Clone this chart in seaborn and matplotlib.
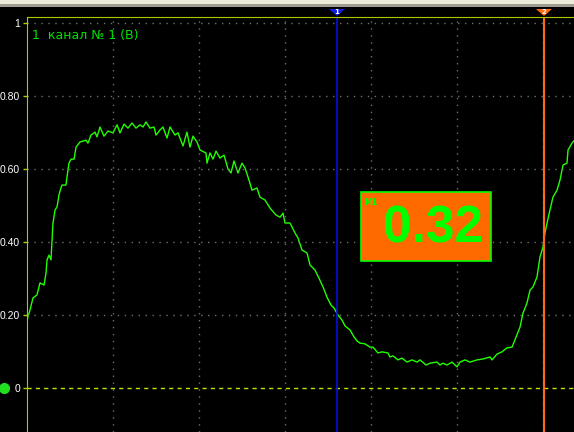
import numpy as np
import pandas as pd
import seaborn as sns
import matplotlib.pyplot as plt
from matplotlib.patches import Rectangle, Polygon

# time in grid divisions, voltage in V
t = [0.00, 0.035, 0.07, 0.116, 0.151, 0.198, 0.221, 0.233, 0.256, 0.279,
     0.291, 0.302, 0.326, 0.349, 0.372, 0.395, 0.407, 0.453, 0.465, 0.488,
     0.512, 0.547, 0.570, 0.616, 0.686, 0.709, 0.744, 0.791, 0.814, 0.849,
     0.895, 0.942, 1.000, 1.047, 1.081, 1.128, 1.174, 1.221, 1.267, 1.314,
     1.349, 1.384, 1.430, 1.477, 1.500, 1.547, 1.581, 1.628, 1.663, 1.721,
     1.756, 1.814, 1.860, 1.895, 1.930, 1.977, 2.012, 2.081, 2.093, 2.128,
     2.163, 2.198, 2.244, 2.291, 2.337, 2.372, 2.407, 2.453, 2.500, 2.535,
     2.581, 2.616, 2.674, 2.709, 2.767, 2.826, 2.895, 2.942, 2.977, 3.000,
     3.058, 3.116, 3.151, 3.198, 3.256, 3.291, 3.349, 3.395, 3.442, 3.488,
     3.535, 3.570, 3.616, 3.663, 3.698, 3.756, 3.802, 3.837, 3.872, 3.930,
     3.988, 4.023, 4.081, 4.128, 4.198, 4.221, 4.256, 4.314, 4.360, 4.419,
     4.477, 4.535, 4.570, 4.640, 4.686, 4.767, 4.802, 4.837, 4.884, 4.942,
     5.000, 5.035, 5.093, 5.151, 5.233, 5.291, 5.384, 5.407, 5.465, 5.523,
     5.581, 5.640, 5.674, 5.733, 5.767, 5.814, 5.849, 5.884, 5.930, 5.965,
     6.000, 6.023, 6.047, 6.081, 6.116, 6.163, 6.198, 6.233, 6.279, 6.291,
     6.337, 6.360]
v = [0.186, 0.214, 0.247, 0.255, 0.288, 0.282, 0.315, 0.351, 0.364, 0.351,
     0.405, 0.452, 0.488, 0.496, 0.529, 0.548, 0.556, 0.556, 0.578, 0.616,
     0.627, 0.627, 0.660, 0.674, 0.679, 0.671, 0.693, 0.701, 0.688, 0.715,
     0.690, 0.704, 0.699, 0.721, 0.699, 0.723, 0.712, 0.726, 0.712, 0.721,
     0.715, 0.729, 0.712, 0.715, 0.693, 0.707, 0.715, 0.685, 0.715, 0.693,
     0.699, 0.663, 0.701, 0.660, 0.690, 0.674, 0.652, 0.644, 0.616, 0.644,
     0.627, 0.649, 0.630, 0.638, 0.600, 0.589, 0.622, 0.589, 0.616, 0.603,
     0.570, 0.542, 0.548, 0.523, 0.515, 0.493, 0.474, 0.468, 0.479, 0.452,
     0.452, 0.425, 0.411, 0.378, 0.370, 0.337, 0.323, 0.301, 0.277, 0.249,
     0.227, 0.219, 0.200, 0.186, 0.170, 0.159, 0.140, 0.129, 0.123, 0.121,
     0.112, 0.112, 0.096, 0.099, 0.096, 0.085, 0.088, 0.077, 0.082, 0.071,
     0.077, 0.071, 0.077, 0.063, 0.068, 0.071, 0.063, 0.068, 0.063, 0.071,
     0.058, 0.071, 0.077, 0.071, 0.077, 0.079, 0.085, 0.077, 0.093, 0.099,
     0.110, 0.112, 0.132, 0.167, 0.205, 0.233, 0.268, 0.277, 0.304, 0.359,
     0.386, 0.425, 0.452, 0.488, 0.523, 0.542, 0.570, 0.611, 0.616, 0.652,
     0.671, 0.677]

yticks = [0, 0.2, 0.4, 0.6, 0.8, 1.0]
ytick_labels = ['0', '0.20', '0.40', '0.60', '0.80', '1']
cursor1 = 3.605
cursor2 = 6.01
m1_value = '0.32'
title = '1  канал № 1 (В)'

W, H = 574, 432
fig = plt.figure(figsize=(W / 100, H / 100), dpi=100, facecolor='black')
ax = fig.add_axes([27 / W, 0, 547 / W, 415 / H], facecolor='black')

df = pd.DataFrame({'t': t, 'v': v})
sns.lineplot(data=df, x='t', y='v', ax=ax, color='#22ff00', linewidth=1.0, sort=False)

ax.set_xlim(0, 547 / 86)
ax.set_ylim(-44 / 365, 371 / 365)

# grid
for yy in yticks[1:]:
    ax.axhline(yy, color='#707070', linestyle=(0, (1, 4)), linewidth=1)
for xx in range(1, 7):
    ax.axvline(xx, color='#707070', linestyle=(0, (1, 4)), linewidth=1)
ax.axhline(0, color='#c8e000', linestyle=(0, (3, 3)), linewidth=1)

# cursors
ax.axvline(cursor1, color='#0010e0', linewidth=1.2)
ax.axvline(cursor2, color='#ff6a10', linewidth=1.5)

ax.set_yticks(yticks)
ax.set_yticklabels(ytick_labels, family='Liberation Sans')
ax.set_xticks([])
ax.tick_params(axis='y', colors='#b0c800', length=3, width=1, pad=2,
               labelcolor='white', labelsize=7.5)
for side in ['right', 'bottom']:
    ax.spines[side].set_visible(False)
ax.spines['left'].set_color('#b0c800')
ax.spines['top'].set_color('#b0c800')
ax.set_xlabel('')
ax.set_ylabel('')

ax.text(5 / 86, 0.965, title, color='#00e000', fontsize=9,
        va='center', ha='left', family='DejaVu Sans')

# ground marker
ax.plot([-23 / 86], [0], marker='o', markersize=7, color='#20e020',
        clip_on=False, linestyle='none')

# measurement box
bx0, bx1 = (361 - 27) / 86, (491 - 27) / 86
by0, by1 = (388 - 261) / 365, (388 - 192) / 365
ax.add_patch(Rectangle((bx0, by0), bx1 - bx0, by1 - by0, facecolor='#ff6a00',
                       edgecolor='#00ff00', linewidth=1.2, zorder=5))
ax.text((bx0 + bx1) / 2 + 0.08, (by0 + by1) / 2 - 0.006, m1_value, color='#00ff00',
        fontsize=37, fontweight='bold', ha='center', va='center',
        family='Liberation Sans', zorder=6)
ax.text(bx0 + 0.04, by1 - 0.03, 'M1', color='#00ff00', fontsize=5.5,
        fontweight='bold', ha='left', va='center', zorder=6)

# top toolbar strip
fig.patches.append(Rectangle((0, 1 - 4 / H), 1, 4 / H, transform=fig.transFigure,
                             facecolor='#ece9d8', edgecolor='none'))
fig.patches.append(Rectangle((0, 1 - 7 / H), 1, 3 / H, transform=fig.transFigure,
                             facecolor='#a09c90', edgecolor='none'))

# cursor flags
for px, col, lab in [(337, '#1020e0', '1'), (544, '#ff6a10', '2')]:
    tri = Polygon([((px - 8) / W, 1 - 9 / H), ((px + 8) / W, 1 - 9 / H), (px / W, 1 - 16 / H)],
                  closed=True, transform=fig.transFigure, facecolor=col, edgecolor='none')
    fig.patches.append(tri)
    fig.text(px / W, 1 - 11.5 / H, lab, color='white', fontsize=5, fontweight='bold',
             ha='center', va='center')

fig.savefig('out.png', dpi=100, facecolor='black')
